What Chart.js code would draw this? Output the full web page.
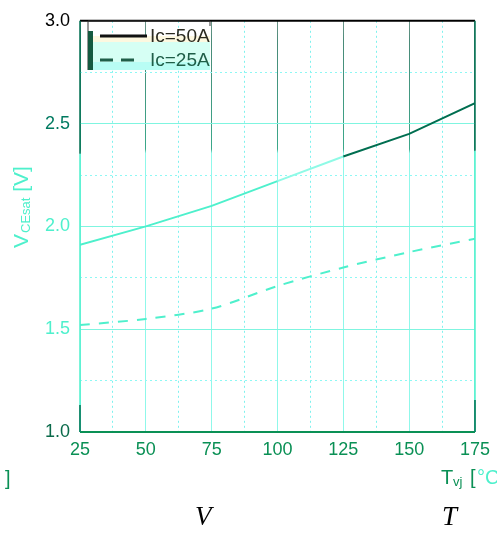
<!DOCTYPE html>
<html>
<head>
<meta charset="utf-8">
<script src="https://cdn.jsdelivr.net/npm/chart.js@4"></script>
<style>
  html, body { margin: 0; padding: 0; background: #fff; }
  canvas { display: block; }
</style>
</head>
<body>
<canvas id="chart" width="497" height="534"></canvas>
<script>
// ── Data ────────────────────────────────────────────────────────────────
const temps   = [25, 50, 75, 100, 125, 150, 175];          // Tvj [°C]
const vce50A  = [1.91, 2.00, 2.10, 2.22, 2.34, 2.45, 2.60]; // Ic = 50A
const vce25A  = [1.52, 1.55, 1.60, 1.71, 1.80, 1.875, 1.94]; // Ic = 25A
const xTicks  = [25, 50, 75, 100, 125, 150, 175];
const yTicks  = [1.0, 1.5, 2.0, 2.5, 3.0];
const legendLabels = ['Ic=50A', 'Ic=25A'];

// ── Colours ─────────────────────────────────────────────────────────────
const AQUA  = '#4ef0cc';
const DARK  = '#006e50';
const GREEN = '#0a9055';

const pts = arr => temps.map((t, i) => ({ x: t, y: arr[i] }));
const isMajor = (v, step) => Math.abs(v / step - Math.round(v / step)) < 1e-6;

// vertical major grid lines: teal at the top, aqua below
let vGrad = null;
function vertColor(c) {
  const ch = c.chart;
  if (!vGrad) {
    vGrad = ch.ctx.createLinearGradient(0, 16, 0, 432);
    vGrad.addColorStop(0, '#7a9a90');
    vGrad.addColorStop(0.06, '#4a8a78');
    vGrad.addColorStop(0.32, '#3aa88a');
    vGrad.addColorStop(0.33, '#8ff8ea');
    vGrad.addColorStop(1, '#8ff8ea');
  }
  return vGrad;
}

// Extra text + frame + legend drawn on top of the chart area
const decor = {
  id: 'decor',
  afterDraw(chart) {
    const { ctx, chartArea: a } = chart;
    ctx.save();

    // frame: black top, green bottom, left/right dark above, aqua below
    ctx.lineWidth = 2;
    ctx.strokeStyle = '#000';
    ctx.beginPath(); ctx.moveTo(a.left, a.top); ctx.lineTo(a.right, a.top); ctx.stroke();
    ctx.strokeStyle = GREEN;
    ctx.beginPath(); ctx.moveTo(a.left, a.bottom); ctx.lineTo(a.right, a.bottom); ctx.stroke();
    ctx.lineWidth = 1.5;
    ctx.strokeStyle = AQUA;
    ctx.beginPath(); ctx.moveTo(a.left, a.top + 133); ctx.lineTo(a.left, a.bottom); ctx.stroke();
    ctx.beginPath(); ctx.moveTo(a.right, a.top + 130); ctx.lineTo(a.right, a.bottom); ctx.stroke();
    ctx.strokeStyle = DARK;
    ctx.beginPath(); ctx.moveTo(a.left, a.top); ctx.lineTo(a.left, a.top + 133); ctx.stroke();
    ctx.beginPath(); ctx.moveTo(a.right, a.top); ctx.lineTo(a.right, a.top + 130); ctx.stroke();
    ctx.beginPath(); ctx.moveTo(a.left, a.bottom - 27); ctx.lineTo(a.left, a.bottom); ctx.stroke();
    ctx.beginPath(); ctx.moveTo(a.right, a.bottom - 32); ctx.lineTo(a.right, a.bottom); ctx.stroke();

    // legend box
    const lx = 88, ly = 21, lw = 122, lh = 49;
    ctx.fillStyle = '#fdf8e0'; ctx.fillRect(lx, ly + 15, lw, 6);
    ctx.fillStyle = '#d6fff4'; ctx.fillRect(lx, ly + 21, lw, 20);
    ctx.fillStyle = '#b8fdf4'; ctx.fillRect(lx, ly + 41, lw, 8);
    ctx.strokeStyle = '#333'; ctx.lineWidth = 1;
    ctx.beginPath(); ctx.moveTo(lx, ly + lh); ctx.lineTo(lx, ly); ctx.lineTo(lx + lw, ly); ctx.lineTo(lx + lw, ly + 5); ctx.stroke();
    ctx.fillStyle = '#155a40'; ctx.fillRect(lx, ly + 10, 5, 39);

    ctx.lineWidth = 3;
    ctx.strokeStyle = '#111';
    ctx.beginPath(); ctx.moveTo(100, 36); ctx.lineTo(147, 36); ctx.stroke();
    ctx.strokeStyle = '#1f5e48';
    ctx.setLineDash([13, 8]);
    ctx.beginPath(); ctx.moveTo(100, 60); ctx.lineTo(134, 60); ctx.stroke();
    ctx.setLineDash([]);

    ctx.font = '19px "Liberation Sans", Arial, sans-serif';
    ctx.textBaseline = 'middle';
    ctx.textAlign = 'left';
    ctx.fillStyle = '#2a2a20'; ctx.fillText(legendLabels[0], 150, 37);
    ctx.fillStyle = '#1f5e48'; ctx.fillText(legendLabels[1], 150, 61);

    // y title: V_CEsat [V]
    ctx.save();
    ctx.translate(22, 248);
    ctx.rotate(-Math.PI / 2);
    ctx.fillStyle = AQUA;
    ctx.textBaseline = 'middle';
    ctx.font = '21px "Liberation Sans", Arial, sans-serif';
    ctx.fillText('V', 0, 0);
    const vw = ctx.measureText('V').width;
    ctx.font = '13px "Liberation Sans", Arial, sans-serif';
    ctx.fillText('CEsat', vw + 1, 4);
    const sw = ctx.measureText('CEsat').width;
    ctx.font = '21px "Liberation Sans", Arial, sans-serif';
    ctx.fillText(' [V]', vw + sw + 1, 0);
    ctx.restore();

    // x title: T_vj [°C
    ctx.fillStyle = GREEN;
    ctx.font = '20px "Liberation Sans", Arial, sans-serif';
    ctx.fillText('T', 441, 478);
    ctx.font = '13px "Liberation Sans", Arial, sans-serif';
    ctx.fillText('vj', 453, 482);
    ctx.font = '20px "Liberation Sans", Arial, sans-serif';
    ctx.fillText('[', 470, 478);
    ctx.fillStyle = AQUA;
    ctx.fillText('°C', 477, 478);
    ctx.fillStyle = GREEN;
    ctx.fillText(']', 5, 479);

    // stray italic letters below
    ctx.fillStyle = '#000';
    ctx.font = 'italic 27px "Liberation Serif", "Times New Roman", serif';
    ctx.fillText('V', 195, 518);
    ctx.fillText('T', 442, 518);

    ctx.restore();
  }
};

new Chart(document.getElementById('chart'), {
  type: 'line',
  data: {
    datasets: [
      {
        label: legendLabels[0],
        data: pts(vce50A),
        borderWidth: 2,
        borderColor: AQUA,
        segment: { borderColor: c => c.p0.parsed.x >= 125 ? DARK : (c.p0.parsed.x >= 100 ? '#8ffae6' : AQUA) },
        pointRadius: 0,
        tension: 0
      },
      {
        label: legendLabels[1],
        data: pts(vce25A),
        borderWidth: 2,
        borderColor: AQUA,
        borderDash: [10, 9],
        pointRadius: 0,
        tension: 0.3
      }
    ]
  },
  options: {
    responsive: false,
    animation: false,
    layout: { padding: { top: 16, right: 21, left: 0, bottom: 0 } },
    plugins: { legend: { display: false }, tooltip: { enabled: false } },
    scales: {
      x: {
        type: 'linear',
        min: 25, max: 175,
        afterFit: s => { s.height = 102; },
        afterBuildTicks: s => {
          const t = [];
          for (let v = 25; v <= 175; v += 12.5) t.push({ value: v });
          s.ticks = t;
        },
        border: {
          display: false,
          dash: c => isMajor(c.tick.value - 25, 25) ? [] : [2, 3]
        },
        grid: {
          drawTicks: false,
          color: c => isMajor(c.tick.value - 25, 25) ? vertColor(c) : '#7ef2ee',
          lineWidth: 1
        },
        ticks: {
          padding: 7,
          maxRotation: 0,
          autoSkip: false,
          color: GREEN,
          font: { size: 18, family: '"Liberation Sans", Arial, sans-serif' },
          callback: v => xTicks.includes(v) ? String(v) : ''
        }
      },
      y: {
        min: 1.0, max: 3.0,
        afterFit: s => { s.width = 80; },
        afterBuildTicks: s => {
          const t = [];
          for (let v = 1.0; v <= 3.0001; v += 0.25) t.push({ value: Math.round(v * 100) / 100 });
          s.ticks = t;
        },
        border: {
          display: false,
          dash: c => isMajor(c.tick.value, 0.5) ? [] : [2, 3]
        },
        grid: {
          drawTicks: false,
          color: c => isMajor(c.tick.value, 0.5) ? '#7ff5e0' : '#8ef8f4',
          lineWidth: 1
        },
        ticks: {
          padding: 10,
          color: c => ({ 3: '#000', 2.5: '#007a60', 1: '#0a6a4a' }[c.tick.value] || AQUA),
          font: { size: 18, family: '"Liberation Sans", Arial, sans-serif' },
          callback: v => yTicks.includes(v) ? v.toFixed(1) : ''
        }
      }
    }
  },
  plugins: [decor]
});
</script>
</body>
</html>
